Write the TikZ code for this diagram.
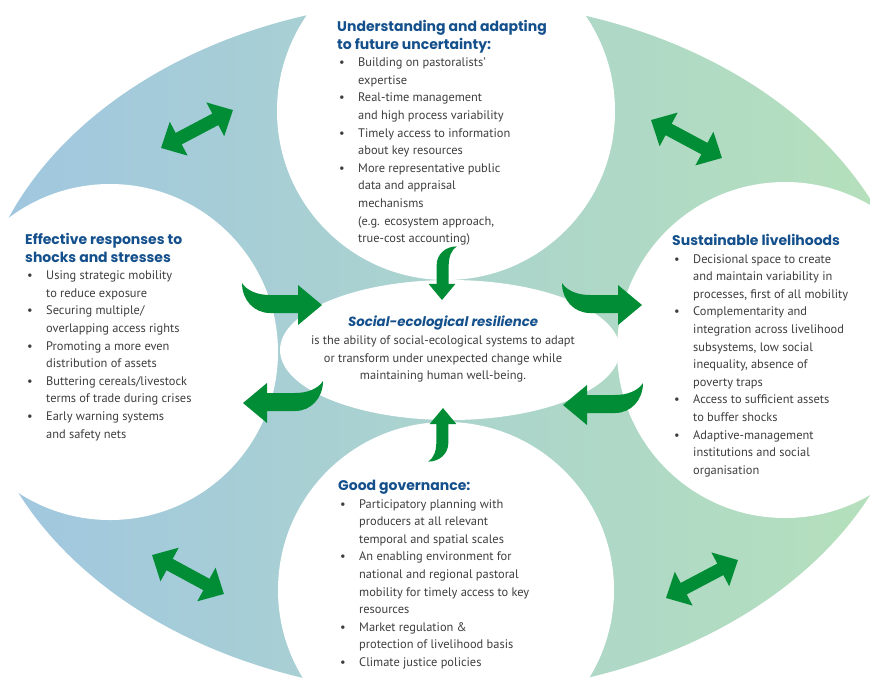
\documentclass[tikz,border=0pt]{standalone}
\usepackage{fontspec}
\setmainfont{PT Sans}
\newfontfamily\headfont{Poppins}
\usetikzlibrary{arrows.meta,shapes.geometric}
\definecolor{agreen}{RGB}{0,141,54}
\definecolor{tblue}{RGB}{20,80,140}
\definecolor{tgrey}{RGB}{62,62,62}
\definecolor{bgl}{RGB}{160,198,225}
\definecolor{bgm}{RGB}{169,208,212}
\definecolor{bgr}{RGB}{182,225,186}
\newcommand\hd{\headfont\bfseries\fontsize{14}{17.6}\selectfont\color{tblue}}
\newcommand\hdi{\headfont\bfseries\itshape\fontsize{13.3}{17.6}\selectfont\color{tblue}}
\newcommand\itm{\makebox[21pt][l]{\hspace{2pt}•}}
\newcommand\cnt{\hspace*{21pt}}
\tikzset{
  blk/.style={anchor=north west, inner sep=0pt, align=left, text=tgrey,
    font=\fontsize{12.4}{17.6}\selectfont},
  wcirc/.style={circle, fill=white, inner sep=0pt, minimum size=#1},
  dblarr/.style={draw=agreen, line width=13pt,
    {Triangle[width=37pt,length=20pt]}-{Triangle[width=37pt,length=20pt]}},
  pics/carrow/.style={code={
    \fill[agreen] (0,0) -- (-24,-20) -- (-24,-10) -- (-52,-10)
      .. controls (-64,-10) and (-75,-14) .. (-80,-22)
      .. controls (-80,-5) and (-68,8) .. (-52,8)
      -- (-24,8) -- (-24,20) -- cycle;}}
}
\begin{document}
\begin{tikzpicture}[x=1pt,y=-1pt]
\useasboundingbox (0,0) rectangle (870,681);
\begin{scope}
\clip (0,0) rectangle (870,681);
\shade[left color=bgl, middle color=bgm, right color=bgr]
  (445,347) ellipse [x radius=470pt, y radius=347pt];
\node[wcirc=338pt] (ctop) at (446,111) {};
\node[wcirc=336pt] (cleft) at (110,352) {};
\node[wcirc=336pt] (cright) at (785,350) {};
\node[wcirc=336pt] (cbot) at (446,590) {};
\node[ellipse, fill=white, inner sep=0pt, minimum width=340pt, minimum height=140pt] (cen) at (450,350) {};
\end{scope}

% double arrows
\coordinate (tl1) at (161,148); \coordinate (tl2) at (233,110);
\coordinate (tr1) at (651,120); \coordinate (tr2) at (722,158);
\coordinate (bl1) at (152,555); \coordinate (bl2) at (224,594);
\coordinate (br1) at (666,598); \coordinate (br2) at (738,560);
\draw[dblarr] (tl1) -- (tl2);
\draw[dblarr] (tr1) -- (tr2);
\draw[dblarr] (bl1) -- (bl2);
\draw[dblarr] (br1) -- (br2);

% curved arrows
\pic at (322,305) {carrow};
\pic[xscale=-1] at (243,403) {carrow};
\pic at (642,305) {carrow};
\pic[xscale=-1] at (563,405) {carrow};
\pic[rotate=-90, scale=0.67] at (442,300) {carrow};
\pic[rotate=90, scale=0.67] at (443,408) {carrow};

% texts
\node[blk] (ttop) at (337,20) {%
{\hd Understanding and adapting}\\
{\hd to future uncertainty:}\\
\itm Building on pastoralists'\\
\cnt expertise\\
\itm Real-time management\\
\cnt and high process variability\\
\itm Timely access to information\\
\cnt about key resources\\
\itm More representative public\\
\cnt data and appraisal\\
\cnt mechanisms\\
\cnt (e.g. ecosystem approach,\\
\cnt true-cost accounting)};

\node[blk] (tleft) at (25,233) {%
{\hd Effective responses to}\\
{\hd shocks and stresses}\\
\itm Using strategic mobility\\
\cnt to reduce exposure\\
\itm Securing multiple/\\
\cnt overlapping access rights\\
\itm Promoting a more even\\
\cnt distribution of assets\\
\itm Buttering cereals/livestock\\
\cnt terms of trade during crises\\
\itm Early warning systems\\
\cnt and safety nets};

\node[blk] (tright) at (672,234) {%
{\hd Sustainable livelihoods}\\
\itm Decisional space to create\\
\cnt and maintain variability in\\
\cnt processes, first of all mobility\\
\itm Complementarity and\\
\cnt integration across livelihood\\
\cnt subsystems, low social\\
\cnt inequality, absence of\\
\cnt poverty traps\\
\itm Access to sufficient assets\\
\cnt to buffer shocks\\
\itm Adaptive-management\\
\cnt institutions and social\\
\cnt organisation};

\node[blk] (tbot) at (338,480) {%
{\hd Good governance:}\\
\itm Participatory planning with\\
\cnt producers at all relevant\\
\cnt temporal and spatial scales\\
\itm An enabling environment for\\
\cnt national and regional pastoral\\
\cnt mobility for timely access to key\\
\cnt resources\\
\itm Market regulation \&\\
\cnt protection of livelihood basis\\
\itm Climate justice policies};

\node[blk, anchor=north, align=center] (tcen) at (443,316) {%
{\hdi Social-ecological resilience}\\
is the ability of social-ecological systems to adapt\\
or transform under unexpected change while\\
maintaining human well-being.};
\end{tikzpicture}
\end{document}
